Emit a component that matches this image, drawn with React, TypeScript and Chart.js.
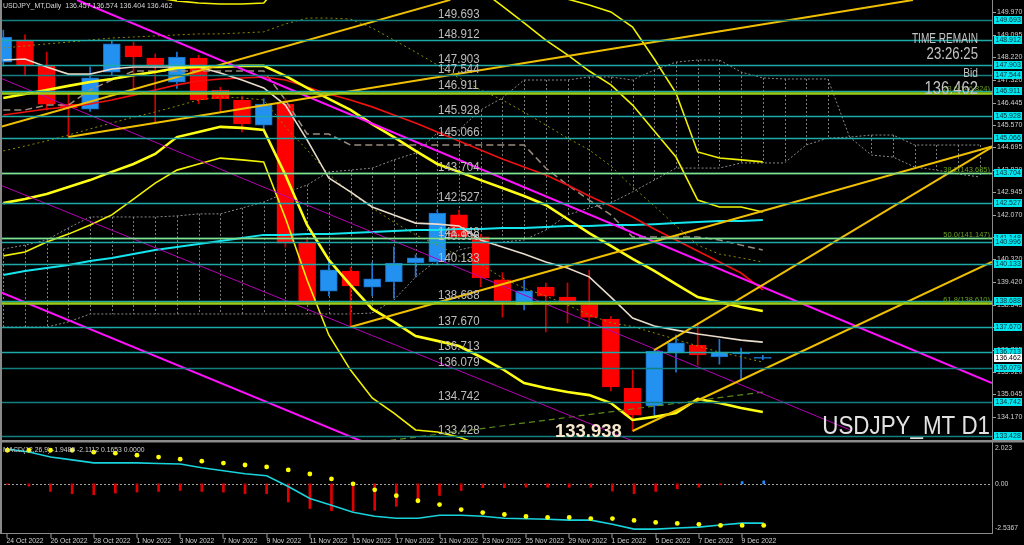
import React, { useEffect, useRef } from 'react';
import { Chart, registerables } from 'chart.js';
Chart.register(...registerables);

// ---------- DATA ----------
const dates = ['24 Oct 2022','25 Oct 2022','26 Oct 2022','27 Oct 2022','28 Oct 2022','31 Oct 2022','1 Nov 2022','2 Nov 2022','3 Nov 2022','4 Nov 2022','7 Nov 2022','8 Nov 2022','9 Nov 2022','10 Nov 2022','11 Nov 2022','14 Nov 2022','15 Nov 2022','16 Nov 2022','17 Nov 2022','18 Nov 2022','21 Nov 2022','22 Nov 2022','23 Nov 2022','24 Nov 2022','25 Nov 2022','28 Nov 2022','29 Nov 2022','30 Nov 2022','1 Dec 2022','2 Dec 2022','5 Dec 2022','6 Dec 2022','7 Dec 2022','8 Dec 2022','9 Dec 2022','12 Dec 2022'];

const opens = [148.03,148.89,147.88,146.39,146.19,147.64,148.66,148.19,147.25,148.19,146.94,146.55,145.57,146.39,140.96,139.08,139.87,139.24,139.44,140.18,140.22,142.06,141.20,139.52,138.54,139.24,138.85,138.56,137.99,135.30,134.60,136.67,136.98,136.51,136.63,136.457];
const highs = [149.28,149.09,148.42,146.82,147.84,148.85,148.81,148.35,148.42,148.30,147.05,146.70,146.60,146.60,141.10,140.30,140.00,140.20,140.81,140.50,142.25,142.25,141.30,139.80,139.52,139.40,139.40,139.90,138.10,136.00,136.80,137.37,137.84,137.20,136.86,136.574];
const lows = [147.88,147.49,146.16,145.10,146.10,147.50,146.86,145.65,147.00,146.40,146.08,145.30,145.40,140.80,138.60,138.90,137.68,138.90,138.81,139.63,140.10,141.10,139.25,138.07,138.35,137.49,137.84,137.68,135.18,133.62,134.17,135.92,136.19,136.23,135.59,136.404];
const closes = [149.01,147.92,146.39,146.24,147.41,148.74,148.23,147.92,148.23,146.55,146.59,145.61,146.39,140.96,138.70,139.91,139.29,139.56,140.18,140.38,142.13,141.20,139.60,138.66,139.09,138.89,138.70,138.06,135.34,134.24,136.74,137.06,136.59,136.70,136.67,136.462];

// Ichimoku cloud spans (extend 10 bars into the future)
const cloudA = [140.73,140.88,141.08,141.55,141.98,141.98,141.98,141.98,142.02,142.10,142.10,142.33,142.56,142.92,143.23,143.74,143.81,143.89,144.21,144.48,145.26,145.38,146.16,146.63,147.33,147.33,147.33,147.45,147.45,147.33,147.72,148.03,148.11,148.11,147.64,147.41,147.37,147.37,147.37,145.10,145.18,145.18,144.79,144.79,144.79,144.79];
const cloudB = [137.68,137.68,137.68,137.88,138.19,138.19,138.19,138.19,138.19,138.19,138.19,138.19,138.19,138.19,138.19,138.19,138.19,138.23,138.74,139.63,140.30,140.69,140.88,141.00,141.08,141.47,142.06,142.33,142.53,142.96,143.42,143.89,143.89,143.89,144.09,144.09,144.09,144.79,145.06,145.10,144.40,144.32,143.93,143.81,143.66,143.54];

const tenkan = [148.11,148.15,147.84,147.56,147.56,147.76,147.84,147.84,147.84,147.84,147.60,147.33,147.02,146.35,144.99,143.50,142.96,142.37,142.06,141.74,141.70,141.63,141.08,140.81,140.53,140.22,139.99,139.64,138.85,138.03,137.72,137.56,137.41,137.29,137.17,137.09];
const kijun = [146.16,146.16,146.35,146.35,146.94,147.33,147.68,147.68,147.68,147.68,147.68,147.68,147.68,146.55,145.22,145.22,144.79,144.79,144.79,144.79,144.79,144.79,144.79,144.79,144.79,143.89,143.23,142.64,142.06,141.20,141.20,141.20,141.20,141.08,140.88,140.69];
const redMA = [145.96,146.08,146.20,146.28,146.39,146.55,146.74,146.94,147.14,147.29,147.37,147.41,147.45,147.33,147.06,146.78,146.55,146.28,145.96,145.65,145.30,144.95,144.60,144.24,143.93,143.62,143.23,142.80,142.41,141.98,141.51,141.08,140.65,140.22,139.79,139.13];
const cyanMA = [139.71,139.87,139.99,140.10,140.26,140.38,140.53,140.69,140.81,140.92,141.04,141.16,141.28,141.28,141.31,141.31,141.35,141.39,141.43,141.47,141.47,141.51,141.51,141.55,141.55,141.59,141.63,141.63,141.67,141.67,141.70,141.74,141.78,141.82,141.82,141.86];
const envUpper = [148.58,148.66,148.74,148.81,148.89,148.97,149.01,149.05,149.09,149.13,149.13,149.17,149.21,149.52,149.75,149.75,149.71,149.36,148.89,148.42,147.92,147.41,146.94,146.55,146.08,145.57,145.06,144.60,143.97,143.15,142.41,141.63,140.88,140.53,140.38,140.22];
const envLower = [144.56,144.75,144.95,145.18,145.42,145.65,145.88,146.08,146.31,146.55,146.67,146.63,146.55,145.50,144.60,143.66,142.91,142.33,141.78,141.28,140.88,140.46,140.14,139.60,139.20,138.89,138.54,138.15,137.85,137.70,137.45,137.20,136.94,136.70,136.51,136.31];
const bandUp1 = [146.63,146.78,146.94,147.10,147.25,147.37,147.52,147.64,147.80,147.84,147.84,147.88,147.88,147.49,147.02,146.59,146.16,145.61,145.10,144.56,144.05,143.74,143.42,143.11,142.80,142.45,141.90,141.35,140.85,140.34,139.87,139.36,138.85,138.66,138.46,138.31];
const bandLow1 = [142.52,142.68,142.88,143.15,143.42,143.74,144.05,144.44,145.10,145.30,145.50,145.46,145.38,143.62,141.67,140.30,139.32,138.39,137.88,137.33,137.14,136.94,136.51,136.04,135.49,135.30,135.14,135.02,134.71,134.05,134.17,134.32,134.87,134.71,134.52,134.36];
const bandUp2 = [150.9,151.0,151.0,150.9,150.8,150.7,150.6,150.55,150.42,150.34,150.30,150.30,150.34,151.3,152.5,153.0,153.2,153.0,152.6,152.1,151.6,151.2,150.85,150.22,149.56,148.89,148.31,147.68,147.14,146.35,145.34,144.32,142.64,142.37,142.37,142.17];
const bandLow2 = [140.46,140.61,141.00,141.31,141.67,142.06,142.68,143.30,143.81,144.05,144.28,144.21,144.13,141.94,139.52,137.37,136.00,134.91,134.32,133.66,133.58,133.38,133.07,132.9,132.8,132.7,132.6,132.5,132.3,131.9,131.8,131.8,132.0,132.0,132.0,132.0];
const bandUp3 = [151.6,151.7,151.7,151.6,151.5,151.5,151.4,151.4,151.3,151.3,151.3,151.3,151.3,152.0,153.4,154.0,154.2,154.1,153.8,153.4,152.9,152.4,151.9,151.5,151.1,150.8,150.49,150.26,149.99,149.40,148.15,146.82,144.52,144.28,144.21,144.13];

// Trend lines: [barIndex1, price1, barIndex2, price2]
const goldTrends = [
  [-0.15, 145.49, 20.6, 150.46],
  [3, 145.10, 41.92, 150.455],
  [16, 137.68, 45.56, 144.73],
  [29, 133.62, 45.56, 140.22],
  [30, 136.78, 45.56, 144.71],
];
const magentaThick = [
  [3.4, 150.455, 45.56, 135.49],
  [-0.15, 139.05, 17, 133.05],
];
const magentaThin = [
  [-0.15, 147.41, 39.02, 133.66],
  [-0.15, 143.23, 29.5, 133.06],
];
const greenDashed = [16, 133.05, 35, 135.14];

// Horizontal levels
const levels = [149.693,148.912,147.903,147.544,146.911,145.928,145.066,143.704,142.527,141.148,140.996,140.133,138.688,137.670,136.713,136.079,134.742,133.428];
const dimLevels = [149.693,147.544,136.079,134.742,133.428];
const fibLevels = [146.824,143.685,141.147,138.610];
const fibNames = ['23.6','38.2','50.0','61.8'];
const bidPrice = 136.462;
const lowMark = '133.938';

// Price axis tick labels
const priceTicks = [149.970,149.095,148.220,147.320,146.445,145.570,144.695,143.820,142.945,142.070,141.195,140.320,139.420,138.545,137.670,136.795,135.920,135.045,134.170,133.295];

// MACD
const macdMain = [1.98,1.81,1.53,1.36,1.19,1.19,1.19,1.16,1.13,0.91,0.74,0.57,0.46,-0.15,-0.83,-1.22,-1.61,-1.84,-1.95,-1.95,-1.78,-1.78,-1.84,-1.95,-1.98,-2.01,-2.06,-2.06,-2.29,-2.57,-2.57,-2.51,-2.46,-2.34,-2.23,-2.23];
const macdSignal = [1.91,1.91,1.91,1.91,1.80,1.74,1.63,1.52,1.40,1.29,1.18,1.07,0.96,0.79,0.56,0.28,0.00,-0.34,-0.67,-0.96,-1.18,-1.46,-1.63,-1.74,-1.85,-1.91,-1.91,-1.97,-1.97,-2.08,-2.19,-2.25,-2.30,-2.36,-2.36,-2.36];
const macdHist = [-0.03,-0.13,-0.43,-0.56,-0.62,-0.52,-0.47,-0.43,-0.38,-0.43,-0.47,-0.56,-0.56,-1.03,-1.40,-1.53,-1.56,-1.50,-1.28,-0.94,-0.66,-0.38,-0.22,-0.22,-0.19,-0.19,-0.19,-0.19,-0.41,-0.56,-0.43,-0.28,-0.19,-0.06,0.13,0.17];
const macdTicks = [2.023, 0, -2.5367];
const macdTickText = ['2.023', '0.00', '-2.5367'];

// ---------- helpers ----------
const FONT = '"Liberation Sans", Arial, sans-serif';
const X_MIN = -0.152;
const X_MAX = 45.562;

function txt(ctx: CanvasRenderingContext2D, s: string, x: number, y: number, size: number, color: string, align: CanvasTextAlign = 'left', sx = 1, weight = 'normal', baseline: CanvasTextBaseline = 'alphabetic') {
  ctx.save();
  ctx.font = `${weight} ${size}px ${FONT}`;
  ctx.fillStyle = color;
  ctx.textAlign = align;
  ctx.textBaseline = baseline;
  ctx.translate(x, y);
  ctx.scale(sx, 1);
  ctx.fillText(s, 0, 0);
  ctx.restore();
}

const series = (arr: number[], color: string, width: number, order: number, extra: any = {}) => ({
  type: 'line', data: arr.map((v, i) => ({ x: i, y: v })), borderColor: color, borderWidth: width,
  pointRadius: 0, tension: 0, fill: false, order, ...extra,
});
const seg = (s: number[], color: string, width: number, order: number, extra: any = {}) => ({
  type: 'line', data: [{ x: s[0], y: s[1] }, { x: s[2], y: s[3] }], borderColor: color, borderWidth: width,
  pointRadius: 0, tension: 0, fill: false, order, ...extra,
});

const BULL = '#2291F0';
const BEAR = '#FF0000';

const mainPlugin = {
  id: 'mainDecor',
  beforeDatasetsDraw(chart: any) {
    const { ctx, scales: { x, y }, chartArea: a } = chart;
    ctx.save();
    ctx.beginPath(); ctx.rect(a.left, a.top, a.right - a.left, a.bottom - a.top); ctx.clip();
    ctx.strokeStyle = '#7c7c7c'; ctx.lineWidth = 1; ctx.setLineDash([2, 2]);
    cloudA.forEach((v, i) => {
      const px = Math.round(x.getPixelForValue(i)) + 0.5;
      ctx.beginPath(); ctx.moveTo(px, y.getPixelForValue(v)); ctx.lineTo(px, y.getPixelForValue(cloudB[i])); ctx.stroke();
    });
    ctx.restore();
  },
  afterDatasetsDraw(chart: any) {
    const { ctx, scales: { y }, chartArea: a } = chart;
    ctx.save();
    ctx.beginPath(); ctx.rect(a.left, a.top, a.right - a.left, a.bottom - a.top); ctx.clip();
    levels.forEach((lv) => {
      const py = Math.round(y.getPixelForValue(lv)) + 0.5;
      ctx.strokeStyle = dimLevels.includes(lv) ? '#12807f' : '#1eaaa9';
      ctx.lineWidth = 1.5;
      ctx.beginPath(); ctx.moveTo(a.left, py); ctx.lineTo(a.right, py); ctx.stroke();
    });
    fibLevels.forEach((lv, k) => {
      const py = Math.round(y.getPixelForValue(lv)) + 0.5;
      const strong = k === 0 || k === 3;
      ctx.strokeStyle = strong ? '#9acd1a' : '#86e086';
      ctx.lineWidth = strong ? 2.5 : 1.5;
      ctx.beginPath(); ctx.moveTo(a.left, py); ctx.lineTo(a.right, py); ctx.stroke();
    });
    levels.forEach((lv) => {
      const py = y.getPixelForValue(lv);
      txt(ctx, lv.toFixed(3), 438, py - 2, 12.5, '#bdbdbd', 'left', 0.92);
    });
    fibLevels.forEach((lv, k) => {
      const py = y.getPixelForValue(lv);
      txt(ctx, `${fibNames[k]}(${lv.toFixed(3)})`, 990, py - 1.5, 7.5, '#6aa020', 'right');
    });
    ctx.restore();
    txt(ctx, 'USDJPY_MT,Daily  ' + [opens[35], highs[35], lows[35], closes[35]].map((v) => v.toFixed(3)).join(' '), 3, 8, 7, '#d6d6d6');
    txt(ctx, 'TIME REMAIN', 978, 43, 14, '#c4c4c4', 'right', 0.72);
    txt(ctx, '23:26:25', 978, 59, 16.5, '#c4c4c4', 'right', 0.8);
    txt(ctx, 'Bid', 978, 77, 13, '#c4c4c4', 'right', 0.78);
    txt(ctx, bidPrice.toFixed(3), 978, 94, 18.5, '#c4c4c4', 'right', 0.8);
    txt(ctx, lowMark, 555, 437, 18.5, '#f6e8cc', 'left', 1, 'bold');
    txt(ctx, 'USDJPY_MT D1', 990, 434, 26, '#e2e2e2', 'right', 0.86);
  },
  afterDraw(chart: any) {
    const { ctx, scales: { y }, chartArea: a } = chart;
    ctx.save();
    ctx.fillStyle = '#8a8a8a';
    ctx.fillRect(0, 0, 2, a.bottom);
    ctx.fillRect(992, 0, 1, a.bottom);
    priceTicks.forEach((t) => {
      const py = Math.round(y.getPixelForValue(t)) + 0.5;
      ctx.strokeStyle = '#a0a0a0'; ctx.lineWidth = 1;
      ctx.beginPath(); ctx.moveTo(993, py); ctx.lineTo(996, py); ctx.stroke();
      txt(ctx, t.toFixed(3), 997, py, 7, '#d0d0d0', 'left', 1, 'normal', 'middle');
    });
    levels.forEach((lv) => {
      const py = Math.round(y.getPixelForValue(lv));
      ctx.fillStyle = '#00e6ef';
      ctx.fillRect(994, py - 4, 28, 8);
      txt(ctx, lv.toFixed(3), 995.5, py + 0.5, 7, '#05303a', 'left', 1, 'normal', 'middle');
    });
    const by = Math.round(y.getPixelForValue(bidPrice));
    ctx.fillStyle = '#ffffff';
    ctx.fillRect(994, by - 4, 28, 8);
    txt(ctx, bidPrice.toFixed(3), 995.5, by + 0.5, 7, '#000000', 'left', 1, 'normal', 'middle');
    ctx.restore();
  },
};

const macdPlugin = {
  id: 'macdDecor',
  beforeDatasetsDraw(chart: any) {
    const { ctx, scales: { y }, chartArea: a } = chart;
    const py = Math.round(y.getPixelForValue(0)) + 0.5;
    ctx.save();
    ctx.strokeStyle = '#a0a0a0'; ctx.lineWidth = 1; ctx.setLineDash([2, 2]);
    ctx.beginPath(); ctx.moveTo(a.left, py); ctx.lineTo(a.right, py); ctx.stroke();
    ctx.restore();
  },
  afterDraw(chart: any) {
    const { ctx, scales: { x, y }, chartArea: a } = chart;
    ctx.save();
    ctx.fillStyle = '#8a8a8a';
    ctx.fillRect(0, 0, 1024, 2.5);
    ctx.fillRect(0, 0, 2, a.bottom + 1);
    ctx.fillRect(992, 0, 1, a.bottom + 1);
    ctx.fillRect(0, a.bottom, 993, 1);
    macdTicks.forEach((t, k) => {
      const py = y.getPixelForValue(t);
      txt(ctx, macdTickText[k], 995, py, 6.8, '#d0d0d0', 'left', 1, 'normal', 'middle');
    });
    txt(ctx, 'MACD(12,26,9) -1.9489 -2.1112 0.1653 0.0000', 3, 12, 6.8, '#d0d0d0');
    dates.forEach((d, i) => {
      if (i % 2 !== 0 || i > 34) return;
      const px = Math.round(x.getPixelForValue(i)) + 0.5;
      ctx.fillStyle = '#a0a0a0';
      ctx.fillRect(px - 1, a.bottom + 1, 1, 4);
      txt(ctx, d, px - 1, a.bottom + 10, 6.8, '#d0d0d0');
    });
    ctx.restore();
  },
};

function mainConfig(): any {
  const idx = opens.map((_, i) => i);
  const isBull = idx.map((i) => closes[i] >= opens[i]);
  const datasets: any[] = [
    { type: 'bar', data: idx.map((i) => ({ x: i, y: [lows[i], highs[i]] })), backgroundColor: isBull.map((b) => (b ? '#1f78d8' : '#d40000')), barThickness: 1, grouped: false, order: 101 },
    { type: 'bar', data: idx.map((i) => ({ x: i, y: [opens[i], closes[i]] })), backgroundColor: isBull.map((b) => (b ? BULL : BEAR)), borderColor: isBull.map((b) => (b ? '#1a6cc0' : BEAR)), borderWidth: 1, borderSkipped: false, barThickness: 17, grouped: false, minBarLength: 1, order: 100 },
    series(cloudA, '#8a8a8a', 1, 102, { borderDash: [2, 2] }),
    series(cloudB, '#8a8a8a', 1, 102, { borderDash: [2, 2] }),
    series(envUpper, '#8c8c00', 1, 60, { borderDash: [2, 3] }),
    series(envLower, '#8c8c00', 1, 60, { borderDash: [2, 3] }),
    series(kijun, '#9a8c7e', 1.5, 58, { borderDash: [7, 4] }),
    series(cyanMA, '#14e6f0', 2, 57),
    series(redMA, '#f01010', 1.6, 56),
    series(tenkan, '#e8dccb', 1.6, 55),
    series(bandUp2, '#f2f200', 1.6, 54),
    series(bandLow2, '#f2f200', 1.6, 54),
    series(bandUp3, '#f2f200', 1.6, 54),
    series(bandUp1, '#ffff14', 2.6, 53),
    series(bandLow1, '#ffff14', 2.6, 53),
    ...goldTrends.map((s) => seg(s, '#f0c000', 2, 20)),
    ...magentaThick.map((s) => seg(s, '#ff10ff', 2, 21)),
    ...magentaThin.map((s) => seg(s, '#b400b4', 1, 21)),
    seg(greenDashed, '#5c8a18', 1.2, 22, { borderDash: [6, 4] }),
  ];
  return {
    type: 'bar',
    data: { datasets },
    options: {
      animation: false, responsive: false, maintainAspectRatio: false, devicePixelRatio: 1, events: [],
      layout: { padding: { left: 0, right: 32, top: 0, bottom: 0 } },
      plugins: { legend: { display: false }, tooltip: { enabled: false } },
      scales: {
        x: { type: 'linear', min: X_MIN, max: X_MAX, display: false, offset: false },
        y: { type: 'linear', min: 133.2675, max: 150.455, display: false },
      },
    },
    plugins: [mainPlugin],
  };
}

function macdConfig(): any {
  const idx = macdHist.map((_, i) => i);
  return {
    type: 'bar',
    data: {
      datasets: [
        { type: 'bar', data: idx.map((i) => ({ x: i, y: macdHist[i] })), backgroundColor: macdHist.map((v) => (v >= 0 ? '#1e8cff' : '#e00000')), barThickness: 2, grouped: false, order: 3 },
        { type: 'line', data: idx.map((i) => ({ x: i, y: macdMain[i] })), borderColor: '#18d2dc', borderWidth: 1.6, pointRadius: 0, tension: 0, order: 2 },
        { type: 'line', data: idx.map((i) => ({ x: i, y: macdSignal[i] })), showLine: false, pointRadius: 2.4, pointBackgroundColor: '#ffff00', pointBorderWidth: 0, order: 1 },
      ],
    },
    options: {
      animation: false, responsive: false, maintainAspectRatio: false, devicePixelRatio: 1, events: [],
      layout: { padding: { left: 0, right: 32, top: 3, bottom: 12 } },
      plugins: { legend: { display: false }, tooltip: { enabled: false } },
      scales: {
        x: { type: 'linear', min: X_MIN, max: X_MAX, display: false, offset: false },
        y: { type: 'linear', min: -2.792, max: 2.264, display: false },
      },
    },
    plugins: [macdPlugin],
  };
}

export default function App() {
  const mainRef = useRef<HTMLCanvasElement>(null);
  const macdRef = useRef<HTMLCanvasElement>(null);
  useEffect(() => {
    const c1 = new Chart(mainRef.current as HTMLCanvasElement, mainConfig());
    const c2 = new Chart(macdRef.current as HTMLCanvasElement, macdConfig());
    return () => { c1.destroy(); c2.destroy(); };
  }, []);
  return (
    <div style={{ position: 'fixed', left: 0, top: 0, width: 1024, height: 545, background: '#000', overflow: 'hidden' }}>
      <canvas ref={mainRef} width={1024} height={440} style={{ position: 'absolute', left: 0, top: 0, width: 1024, height: 440 }} />
      <canvas ref={macdRef} width={1024} height={105} style={{ position: 'absolute', left: 0, top: 440, width: 1024, height: 105 }} />
    </div>
  );
}
